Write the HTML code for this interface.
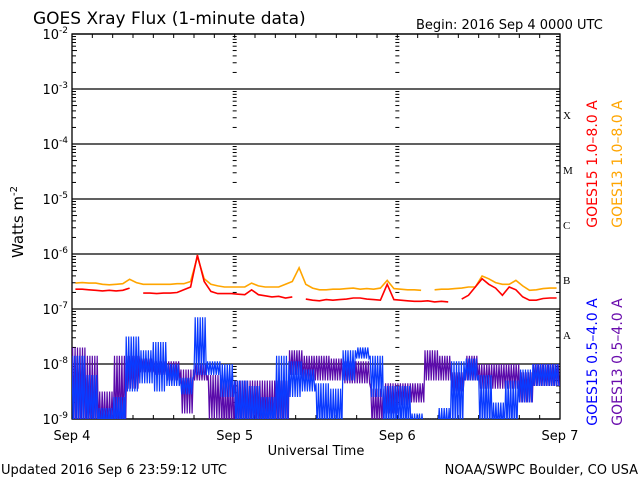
<!DOCTYPE html>
<html><head><meta charset="utf-8">
<style>
html,body{margin:0;padding:0;background:#fff;}
svg{display:block;font-family:"DejaVu Sans","Liberation Sans",sans-serif;}
</style></head>
<body>
<svg id="chart" width="640" height="480" viewBox="0 0 640 480" xmlns="http://www.w3.org/2000/svg">
<text x="33" y="24" font-size="17">GOES Xray Flux (1-minute data)</text>
<text x="416" y="29" font-size="13">Begin:  2016 Sep 4 0000 UTC</text>
<text transform="translate(23,222) rotate(-90)" text-anchor="middle" font-size="15">Watts m<tspan font-size="10" dy="-6">-2</tspan></text>
<text x="316" y="455" text-anchor="middle" font-size="13">Universal Time</text>
<text x="1" y="474" font-size="13">Updated 2016 Sep  6 23:59:12 UTC</text>
<text x="638" y="474" text-anchor="end" font-size="13">NOAA/SWPC Boulder, CO USA</text>
<g font-size="14">
<text transform="translate(597,164) rotate(-90)" text-anchor="middle" fill="#ff0000">GOES15 1.0–8.0 A</text>
<text transform="translate(622,164) rotate(-90)" text-anchor="middle" fill="#ffa500">GOES13 1.0–8.0 A</text>
<text transform="translate(597,362) rotate(-90)" text-anchor="middle" fill="#0000ff">GOES15 0.5–4.0 A</text>
<text transform="translate(622,362) rotate(-90)" text-anchor="middle" fill="#6a0dad">GOES13 0.5–4.0 A</text>
</g>
<g id="plot"></g>
</svg>
<script>
// log10 flux values, hourly (72 hours from 2016 Sep 4 00:00)
const goes13Long = [-6.53,-6.52,-6.53,-6.53,-6.55,-6.56,-6.55,-6.54,
 -6.46,-6.52,-6.55,-6.55,-6.55,-6.55,-6.55,-6.54,
 -6.54,-6.5,-6.05,-6.45,-6.55,-6.58,-6.6,-6.6,
 -6.6,-6.6,-6.53,-6.58,-6.6,-6.6,-6.6,-6.55,
 -6.5,-6.25,-6.55,-6.62,-6.65,-6.65,-6.64,-6.64,
 -6.63,-6.62,-6.64,-6.63,-6.64,-6.62,-6.48,-6.63,
 -6.64,-6.65,-6.65,-6.66,null,-6.65,-6.64,-6.64,
 -6.63,-6.62,-6.6,-6.6,-6.4,-6.45,-6.52,-6.55,
 -6.55,-6.48,-6.58,-6.66,-6.65,-6.63,-6.62,-6.62];
const goes15Long = [-6.64,-6.64,-6.65,-6.66,-6.67,-6.66,-6.67,-6.66,
 -6.62,null,-6.71,-6.71,-6.72,-6.71,-6.71,-6.7,
 -6.65,-6.6,-6.02,-6.5,-6.68,-6.72,-6.72,-6.72,
 -6.73,-6.74,-6.65,-6.74,-6.76,-6.78,-6.77,-6.8,
 -6.78,null,-6.82,-6.84,-6.85,-6.83,-6.84,-6.83,
 -6.82,-6.8,-6.8,-6.82,-6.83,-6.84,-6.55,-6.83,
 -6.84,-6.85,-6.86,-6.86,-6.85,-6.87,-6.86,-6.87,
 null,-6.82,-6.75,-6.6,-6.45,-6.55,-6.62,-6.75,
 -6.6,-6.65,-6.78,-6.84,-6.84,-6.81,-6.8,-6.8];
// short channel: 2-hour bins, low/high of log10 flux
const goes15ShortHi = [-7.85,-8.2,-8.8,-8.6,-7.5,-7.75,-7.6,-8.0,-8.25,-7.15,-7.95,-8.0,
 -8.3,-8.4,-8.6,-7.85,-7.95,-8.1,-8.35,-8.45,-7.75,-7.7,-7.85,-8.4,
 -8.4,-8.9,-9.0,-8.8,-7.95,-7.9,-8.2,-8.7,-8.3,-8.1,-8.0,-8.0];
const goes15ShortLo = [-9.2,-9.2,-9.2,-9.2,-8.5,-8.35,-8.5,-8.4,-8.55,-8.2,-8.2,-8.6,
 -9.2,-9.2,-9.2,-9.2,-8.6,-8.5,-9.2,-9.2,-8.3,-7.9,-8.6,-9.2,
 -9.2,-9.2,-9.2,-9.2,-9.2,-8.3,-9.2,-9.2,-9.2,-8.7,-8.4,-8.4];
const goes13ShortHi = [-7.7,-7.85,-8.5,-7.85,-7.85,-7.9,-7.95,-7.95,-8.1,-8.0,-8.2,-8.3,
 -8.3,-8.3,-8.3,-8.3,-7.75,-7.85,-7.85,-7.9,-7.95,-7.95,-8.45,-8.35,
 -8.35,-8.35,-7.75,-7.85,-8.15,-7.85,-8.0,-8.0,-8.0,-8.15,-8.0,-8.0];
const goes13ShortLo = [-9.2,-9.2,-9.2,-9.2,-8.45,-8.15,-8.2,-8.3,-8.9,-8.3,-9.0,-9.2,
 -9.1,-9.1,-9.1,-9.1,-8.2,-8.3,-8.3,-8.3,-8.35,-8.35,-9.1,-8.9,
 -8.75,-8.7,-8.3,-8.3,-8.5,-8.3,-8.45,-8.45,-8.45,-8.7,-8.4,-8.4];
const yTickExps = [-2,-3,-4,-5,-6,-7,-8,-9];
const xTickLabels = ["Sep 4","Sep 5","Sep 6","Sep 7"];
const classLabels = ["X","M","C","B","A"];

const NS="http://www.w3.org/2000/svg";
const L=72,R=560,T=34,B=419;
const dayW=(R-L)/3;
function xs(h){return L+h*dayW/24;}
function ys(e){return B-(e+9)*55;}
const plot=document.getElementById('plot');
function mk(tag,attrs,parent){const el=document.createElementNS(NS,tag);for(const k in attrs)el.setAttribute(k,attrs[k]);(parent||plot).appendChild(el);return el;}

const clip=mk('clipPath',{id:'pc'});
mk('rect',{x:L,y:T,width:R-L,height:B-T},clip);

// gridlines & y labels
yTickExps.forEach(function(e){
  const y=ys(e);
  const g=mk('line',{x1:L,x2:R,y1:y,y2:y,stroke:'#000','stroke-width':1.3});
  
  
  const t=mk('text',{x:L-4,y:y+5,'text-anchor':'end','font-size':13});
  
  
  t.innerHTML='10<tspan font-size="9" dy="-6">'+e+'</tspan>';
  if(e>-9){
    for(let m=2;m<=9;m++){
      const yy=ys(e-1+Math.log10(m));
      const len=(m===5)?5:4;
      [[L,L+len],[R-len,R],[xs(24)-2,xs(24)+2],[xs(48)-2,xs(48)+2]].forEach(function(p){
        const tk=mk('line',{x1:p[0],x2:p[1],y1:yy,y2:yy,stroke:'#000','stroke-width':1});
        
        
      });
    }
  }
});
// class labels
classLabels.forEach(function(c,i){
  const t=mk('text',{x:R+3,y:ys(-4-i)-25,'font-size':11,'font-family':'Liberation Serif, serif'});
  
  
  t.textContent=c;
});
// x ticks
for(let h=0;h<=72;h+=3){
  const x=xs(h);
  const a=mk('line',{x1:x,x2:x,y1:T,y2:T+4,stroke:'#000'});
  
  
  const b=mk('line',{x1:x,x2:x,y1:B,y2:B-4,stroke:'#000'});
  
  
}
xTickLabels.forEach(function(s,i){
  const t=mk('text',{x:xs(i*24),y:440,'text-anchor':'middle','font-size':13});
  
  
  t.textContent=s;
});
// frame
const fr=mk('rect',{x:L,y:T,width:R-L,height:B-T,fill:'none',stroke:'#000','stroke-width':1.3});



// short channel noisy bands
function band(hi,lo,color,name,phase){
  const n=hi.length,bw=(R-L)/n;
  const steps=11;
  let d='';
  for(let i=0;i<n;i++){
    const x0=L+i*bw;
    for(let k=0;k<steps;k++){
      const x=x0+k*bw/steps+phase;
      const e=((k+i)%2===0)?hi[i]:lo[i];
      d+=(d?'L':'M')+x.toFixed(1)+','+ys(e).toFixed(1);
    }
  }
  const p=mk('path',{d:d,fill:'none',stroke:color,'stroke-width':1.2,'clip-path':'url(#pc)'});
  
  
}
band(goes13ShortHi,goes13ShortLo,'#5a0aaa','series-goes13-short',0.6);
band(goes15ShortHi,goes15ShortLo,'#0a3aff','series-goes15-short',0);

function line(vals,color,name){
  let d='',pen=false;
  vals.forEach(function(v,i){
    if(v===null){pen=false;return;}
    d+=(pen?'L':'M')+xs(i+0.5).toFixed(1)+','+ys(v).toFixed(1);
    pen=true;
  });
  const p=mk('path',{d:d,fill:'none',stroke:color,'stroke-width':1.6,'clip-path':'url(#pc)'});
  
  
}
line(goes13Long,'#ffa500','series-goes13-long');
line(goes15Long,'#ff0000','series-goes15-long');
</script>
</body></html>
